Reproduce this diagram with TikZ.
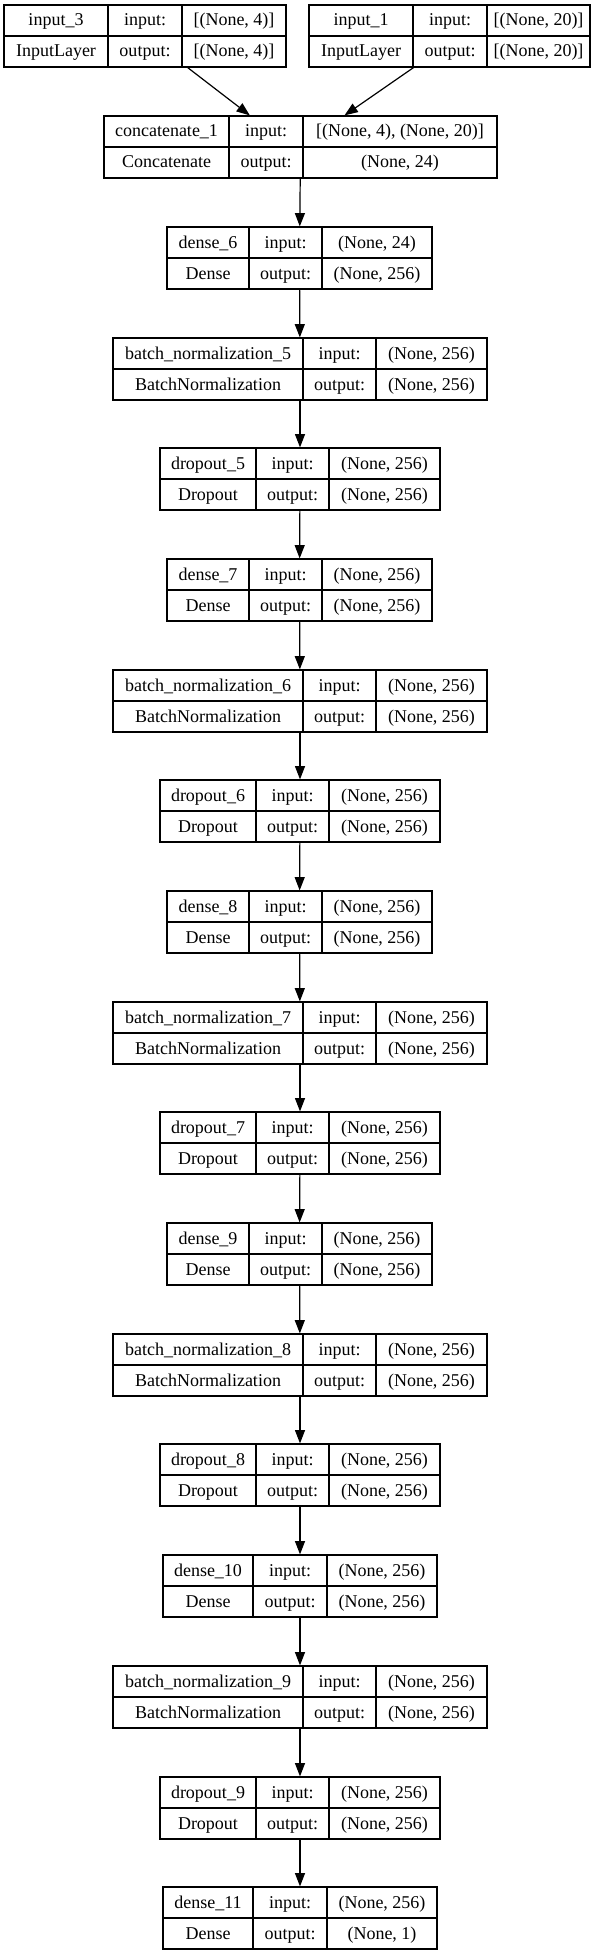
\documentclass[tikz,border=0pt]{standalone}
\usepackage{fontspec}
\setmainfont{Liberation Serif}
\usetikzlibrary{arrows.meta, fit}

\begin{document}
\begin{tikzpicture}[x = 0.75pt, y = -0.75pt, font = \fontsize{13.5}{16}\selectfont,
    box/.style = {draw, line width = 0.9pt, inner sep = 0pt},
    cell/.style = {anchor = base, inner sep = 0pt},
    arr/.style = {line width = 0.9pt, -{Triangle[length = 10pt, width = 7.5pt]}}]
    \useasboundingbox (0,0) rectangle (605,1955);
    \foreach \nm/\yt/\xa/\xb/\xc/\xd/\lab/\typ/\vin/\vout in {
        in3/5/4/108/182/286/input\_3/InputLayer/{[(None, 4)]}/{[(None, 4)]},
        in1/5/309/413/487/590/input\_1/InputLayer/{[(None, 20)]}/{[(None, 20)]},
        cat/116/104/229/303/497/concatenate\_1/Concatenate/{[(None, 4), (None, 20)]}/{(None, 24)},
        d6/227/167/249/322/432/dense\_6/Dense/{(None, 24)}/{(None, 256)},
        bn5/338/113/303/376/487/batch\_normalization\_5/BatchNormalization/{(None, 256)}/{(None, 256)},
        dr5/448/160/256/329/440/dropout\_5/Dropout/{(None, 256)}/{(None, 256)},
        d7/559/167/249/322/432/dense\_7/Dense/{(None, 256)}/{(None, 256)},
        bn6/670/113/303/376/487/batch\_normalization\_6/BatchNormalization/{(None, 256)}/{(None, 256)},
        dr6/780/160/256/329/440/dropout\_6/Dropout/{(None, 256)}/{(None, 256)},
        d8/891/167/249/322/432/dense\_8/Dense/{(None, 256)}/{(None, 256)},
        bn7/1002/113/303/376/487/batch\_normalization\_7/BatchNormalization/{(None, 256)}/{(None, 256)},
        dr7/1112/160/256/329/440/dropout\_7/Dropout/{(None, 256)}/{(None, 256)},
        d9/1223/167/249/322/432/dense\_9/Dense/{(None, 256)}/{(None, 256)},
        bn8/1334/113/303/376/487/batch\_normalization\_8/BatchNormalization/{(None, 256)}/{(None, 256)},
        dr8/1444/160/256/329/440/dropout\_8/Dropout/{(None, 256)}/{(None, 256)},
        d10/1555/163/253/327/437/dense\_10/Dense/{(None, 256)}/{(None, 256)},
        bn9/1666/113/303/376/487/batch\_normalization\_9/BatchNormalization/{(None, 256)}/{(None, 256)},
        dr9/1777/160/256/329/440/dropout\_9/Dropout/{(None, 256)}/{(None, 256)},
        d11/1887/163/253/327/437/dense\_11/Dense/{(None, 256)}/{(None, 1)}}
    {
        \node[box, fit = {(\xa,\yt) (\xd,\yt+62)}] (\nm) {};
        \draw[line width = 0.9pt] (\xb,\yt) -- (\xb,\yt+62) (\xc,\yt) -- (\xc,\yt+62)
            (\xa,\yt+31) -- (\xd,\yt+31);
        \node[cell] (\nm-n) at ({(\xa+\xb)/2},\yt+21) {\lab};
        \node[cell] (\nm-i) at ({(\xb+\xc)/2},\yt+21) {input:};
        \node[cell] (\nm-iv) at ({(\xc+\xd)/2},\yt+21) {\vin};
        \node[cell] (\nm-t) at ({(\xa+\xb)/2},\yt+52) {\typ};
        \node[cell] (\nm-o) at ({(\xb+\xc)/2},\yt+52) {output:};
        \node[cell] (\nm-ov) at ({(\xc+\xd)/2},\yt+52) {\vout};
    }
    % inputs into the concatenation
    \draw[arr] ([xshift = 32pt]in3.south) -- ([xshift = -38pt]cat.north);
    \draw[arr] ([xshift = -27pt]in1.south) -- ([xshift = 33pt]cat.north);
    \foreach \a/\b in {cat/d6, d6/bn5, bn5/dr5, dr5/d7, d7/bn6, bn6/dr6, dr6/d8, d8/bn7,
        bn7/dr7, dr7/d9, d9/bn8, bn8/dr8, dr8/d10, d10/bn9, bn9/dr9, dr9/d11}
        \draw[arr] (\a) -- (\b);
\end{tikzpicture}
\end{document}
